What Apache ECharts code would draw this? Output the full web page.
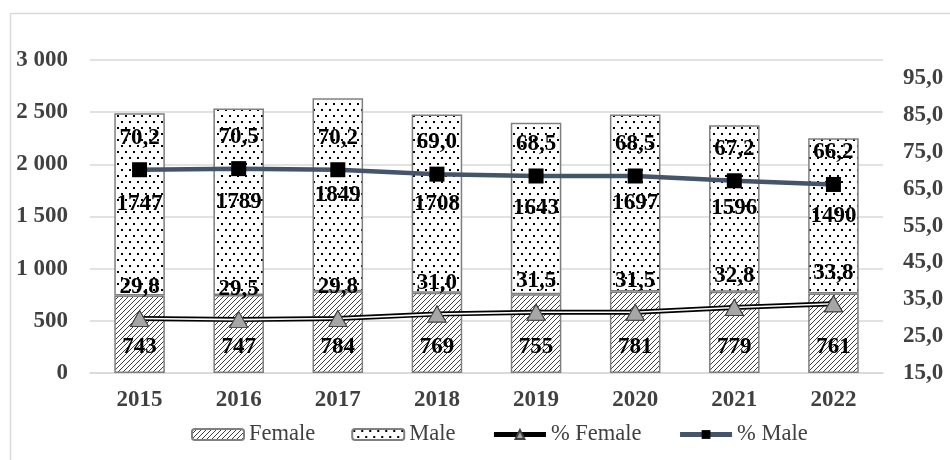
<!DOCTYPE html>
<html><head><meta charset="utf-8">
<script src="https://cdn.jsdelivr.net/npm/echarts@6/dist/echarts.min.js"></script>
<style>html,body{margin:0;padding:0;background:#fff}#c{width:950px;height:460px}</style>
</head><body><div id="c"></div>
<script>
const years = ['2015','2016','2017','2018','2019','2020','2021','2022'];
const female = [743, 747, 784, 769, 755, 781, 779, 761];
const male = [1747, 1789, 1849, 1708, 1643, 1697, 1596, 1490];
const pctFemale = [29.8, 29.5, 29.8, 31.0, 31.5, 31.5, 32.8, 33.8];
const pctMale = [70.2, 70.5, 70.2, 69.0, 68.5, 68.5, 67.2, 66.2];
const leftAxisRange = [0, 3000, 500];
const rightAxisRange = [15, 100, 10];

const FONT = 'Liberation Serif';
function hatch() {
  const c = document.createElement('canvas'); c.width = 5; c.height = 5;
  const g = c.getContext('2d');
  g.fillStyle = '#fff'; g.fillRect(0, 0, 5, 5);
  g.strokeStyle = '#404040'; g.lineWidth = 1;
  g.beginPath();
  g.moveTo(0, 5); g.lineTo(5, 0);
  g.moveTo(-1, 1); g.lineTo(1, -1);
  g.moveTo(4, 6); g.lineTo(6, 4);
  g.stroke();
  return c;
}
function dots() {
  const c = document.createElement('canvas'); c.width = 8; c.height = 12;
  const g = c.getContext('2d');
  g.fillStyle = '#fff'; g.fillRect(0, 0, 8, 12);
  g.fillStyle = '#000';
  g.fillRect(1, 1, 2, 2);
  g.fillRect(5, 7, 2, 2);
  return c;
}
const fmtThousands = v => String(v).replace(/\B(?=(\d{3})+(?!\d))/g, ' ');
const fmtDec = v => Number(v).toFixed(1).replace('.', ',');

const FS = 23;
const labelStyle = { fontFamily: FONT, fontWeight: 'bold', fontSize: FS, color: '#000' };
const axisFont = { fontFamily: FONT, fontWeight: 'bold', fontSize: FS, color: '#404040' };

const chart = echarts.init(document.getElementById('c'), null, { renderer: 'canvas' });
chart.setOption({
  animation: false,
  backgroundColor: '#fff',
  graphic: [{
    type: 'rect', shape: { x: 10.5, y: 13.5, width: 960, height: 470 },
    style: { fill: 'none', stroke: '#D9D9D9', lineWidth: 1.5 }, silent: true, z: -10
  }],
  grid: { left: 90, right: 67, top: 60, bottom: 87 },
  legend: {
    data: [
      { name: 'Female' },
      { name: 'Male' },
      { name: '% Female', lineStyle: { color: '#000', width: 5 } },
      { name: '% Male', lineStyle: { color: '#44546A', width: 5 } }
    ],
    top: 418, left: 186, itemWidth: 52, itemHeight: 11, itemGap: 36,
    textStyle: { fontFamily: FONT, fontSize: 22.5, color: '#404040' }
  },
  xAxis: {
    type: 'category', data: years,
    axisLine: { lineStyle: { color: '#D9D9D9', width: 1.5 } },
    axisTick: { show: false },
    axisLabel: Object.assign({ margin: 16 }, axisFont)
  },
  yAxis: [{
    type: 'value', min: leftAxisRange[0], max: leftAxisRange[1], interval: leftAxisRange[2],
    axisLine: { show: false }, axisTick: { show: false },
    splitLine: { lineStyle: { color: '#D9D9D9', width: 1.5 } },
    axisLabel: Object.assign({ margin: 22, formatter: fmtThousands }, axisFont)
  }, {
    type: 'value', min: rightAxisRange[0], max: rightAxisRange[1], interval: rightAxisRange[2],
    axisLine: { show: false }, axisTick: { show: false }, splitLine: { show: false },
    axisLabel: Object.assign({ margin: 20, showMaxLabel: false, formatter: fmtDec }, axisFont)
  }],
  series: [{
    name: 'Female', type: 'bar', stack: 'total', data: female, barWidth: '51%',
    itemStyle: { color: { image: hatch(), repeat: 'repeat' }, borderColor: '#7F7F7F', borderWidth: 1.5 },
    label: Object.assign({ show: true, position: 'insideBottom', distance: 14 }, labelStyle)
  }, {
    name: 'Male', type: 'bar', stack: 'total', data: male,
    itemStyle: { color: { image: dots(), repeat: 'repeat' }, borderColor: '#7F7F7F', borderWidth: 1.5 },
    label: Object.assign({ show: true, position: 'inside' }, labelStyle)
  }, {
    name: '% Female', type: 'line', yAxisIndex: 1, data: pctFemale, z: 3,
    symbol: 'triangle', symbolSize: [18, 16],
    itemStyle: { color: '#A6A6A6', borderColor: '#404040', borderWidth: 1 },
    lineStyle: { color: '#000', width: 5 }
  }, {
    name: 'pf_inner', type: 'line', yAxisIndex: 1, data: pctFemale, z: 4,
    symbol: 'none', lineStyle: { color: '#fff', width: 1.6 }, silent: true
  }, {
    name: 'pf_marks', type: 'line', yAxisIndex: 1, data: pctFemale, z: 5,
    symbol: 'triangle', symbolSize: [18, 16], lineStyle: { width: 0, opacity: 0 },
    itemStyle: { color: '#A6A6A6', borderColor: '#404040', borderWidth: 1 },
    label: Object.assign({ show: true, position: 'top', distance: 11, formatter: p => fmtDec(p.value) }, labelStyle)
  }, {
    name: '% Male', type: 'line', yAxisIndex: 1, data: pctMale, z: 5,
    symbol: 'rect', symbolSize: 15,
    itemStyle: { color: '#000' },
    lineStyle: { color: '#44546A', width: 4.5 },
    label: Object.assign({ show: true, position: 'top', distance: 13, formatter: p => fmtDec(p.value) }, labelStyle)
  }]
});
</script></body></html>
